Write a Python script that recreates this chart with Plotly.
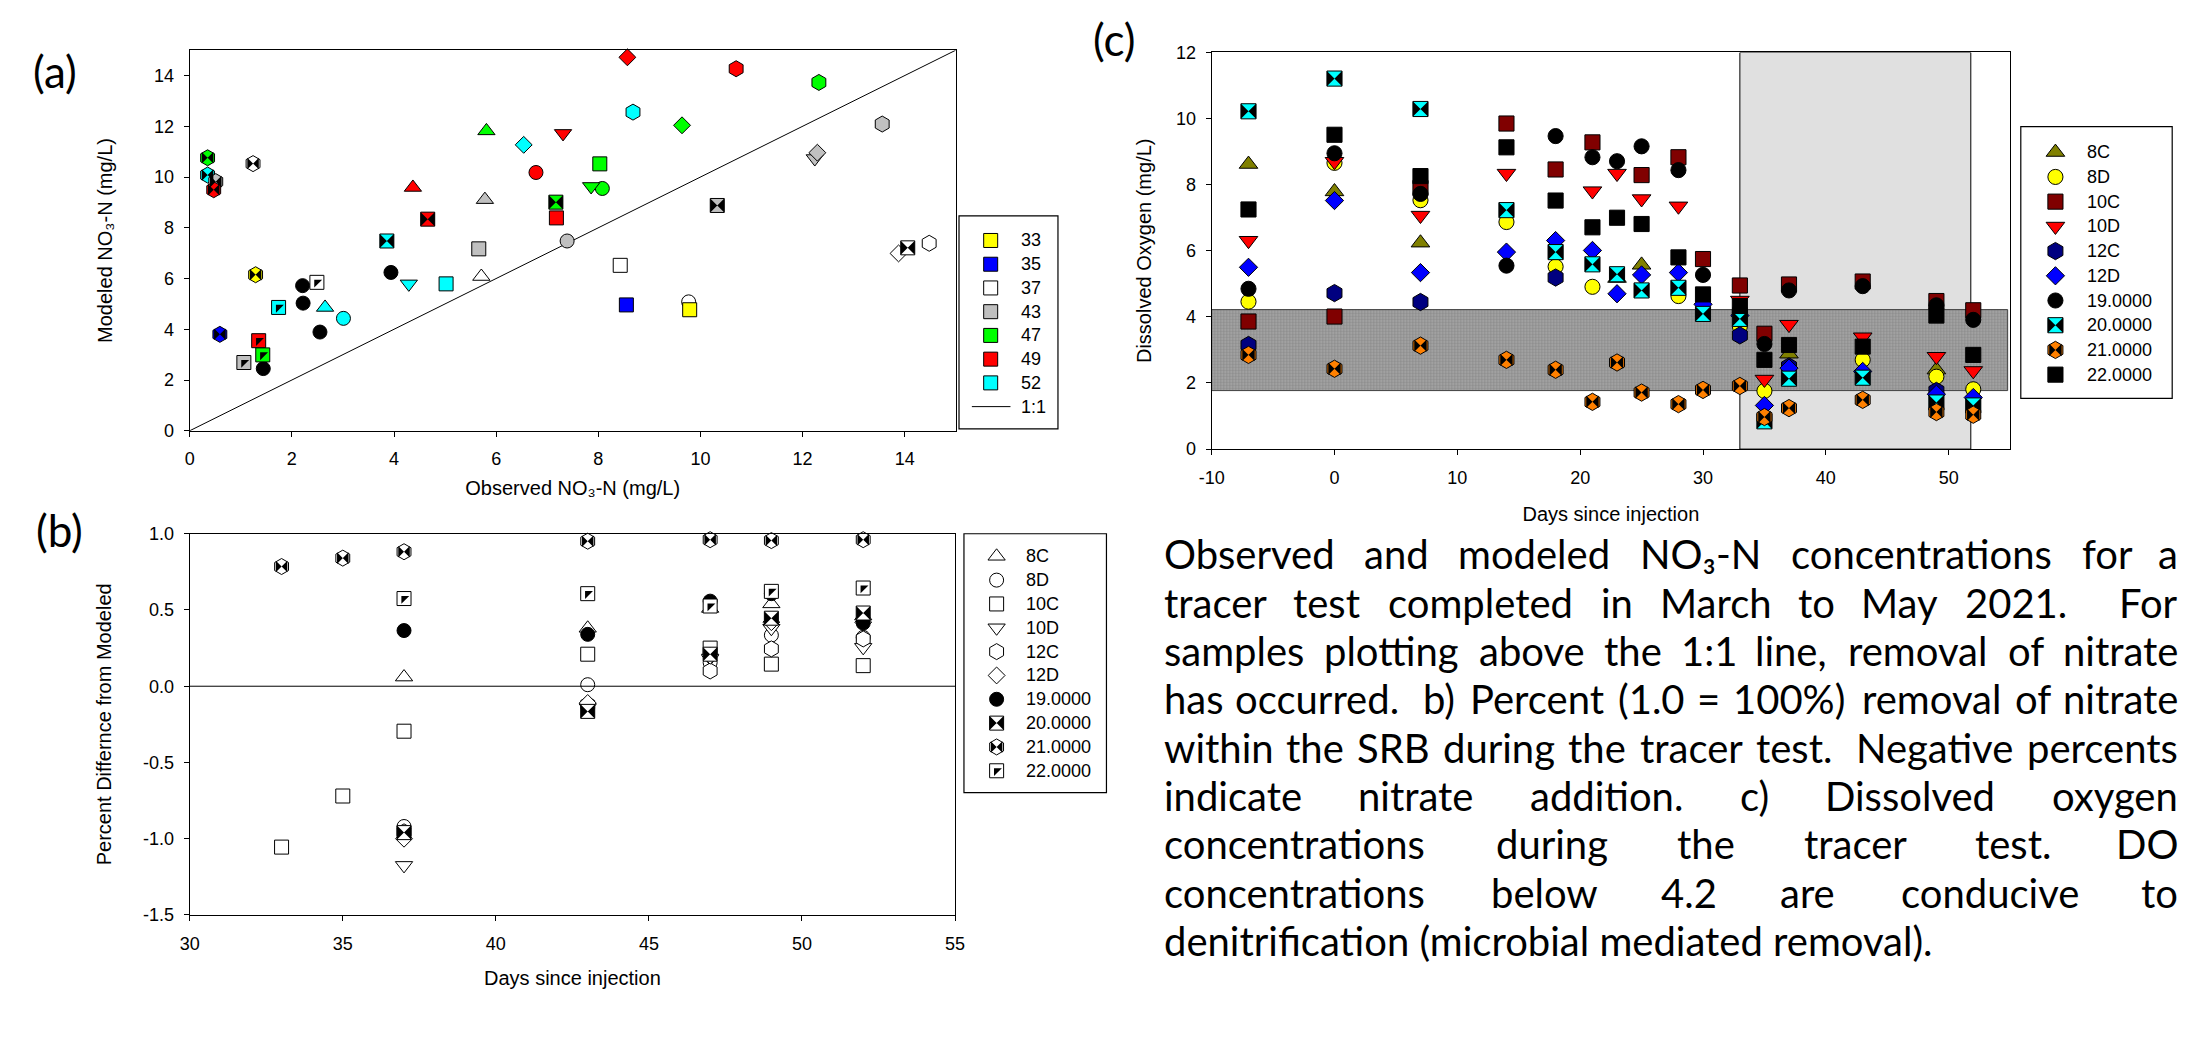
import plotly.graph_objects as go

W, H = 2201, 1040

# ======================= DATA =======================
# ---- Panel (a): observed vs modeled NO3-N (one entry per sample) ----
a_legend_days = [33, 35, 37, 43, 47, 49, 52]
a_legend_labels = ['33', '35', '37', '43', '47', '49', '52']
a_day_colors = ['#ffff00', '#0000ff', '#ffffff', '#c0c0c0', '#00ff00', '#ff0000', '#00ffff']
a_line_label = '1:1'
a_one_to_one = [0, 15]

a_well = ['8C', '8C', '8C', '8C', '8C',
          '8D', '8D', '8D', '8D', '8D',
          '10C', '10C', '10C', '10C', '10C', '10C', '10C',
          '10D', '10D', '10D', '10D',
          '12C', '12C', '12C', '12C', '12C',
          '12D', '12D', '12D', '12D', '12D',
          '19', '19', '19', '19', '19',
          '20', '20', '20', '20', '20',
          '21', '21', '21', '21', '21', '21', '21',
          '22', '22', '22', '22', '22']
a_day = [47, 49, 43, 37, 52,
         49, 47, 43, 52, 37,
         47, 49, 43, 37, 52, 35, 33,
         49, 47, 52, 43,
         52, 49, 47, 43, 37,
         49, 47, 52, 43, 37,
         37, 43, 47, 49, 52,
         47, 49, 52, 43, 37,
         33, 35, 37, 47, 52, 43, 49,
         37, 52, 49, 47, 43]
a_obs = [5.81, 4.37, 5.78, 5.71, 2.65,
         6.78, 8.08, 7.39, 3.01, 9.77,
         8.03, 7.18, 5.66, 8.43, 5.02, 8.55, 9.79,
         7.31, 7.86, 4.29, 12.24,
         8.68, 10.70, 12.32, 13.56, 14.48,
         8.57, 9.64, 6.54, 12.29, 13.88,
         3.94, 2.55, 2.22, 2.21, 1.44,
         7.17, 4.66, 3.86, 10.33, 14.06,
         1.29, 0.59, 1.24, 0.35, 0.35, 0.51, 0.47,
         2.49, 1.74, 1.35, 1.43, 1.06]
a_mod = [11.82, 9.59, 9.11, 6.08, 4.86,
         10.18, 9.55, 7.48, 4.43, 5.08,
         10.52, 8.39, 7.17, 6.52, 5.79, 4.96, 4.77,
         11.72, 9.63, 5.79, 10.73,
         12.56, 14.27, 13.73, 12.09, 7.39,
         14.72, 12.04, 11.27, 10.96, 6.99,
         6.24, 3.89, 5.03, 5.72, 2.45,
         9.01, 8.34, 7.48, 8.88, 7.21,
         6.15, 3.80, 10.53, 10.76, 10.08, 9.82, 9.50,
         5.85, 4.86, 3.55, 2.99, 2.69]
a_ticks = [0, 2, 4, 6, 8, 10, 12, 14]

# ---- Panel (b): percent difference from modeled ----
b_days = [33, 35, 37, 43, 47, 49, 52]
b_8C = [None, None, 0.06, 0.38, 0.51, 0.54, 0.46]
b_8D = [None, None, -0.92, 0.01, 0.155, 0.335, 0.32]
b_10C = [-1.055, -0.72, -0.295, 0.21, 0.25, 0.145, 0.135]
b_10D = [None, None, -1.175, -0.14, 0.185, 0.38, 0.255]
b_12C = [None, None, -0.955, -0.12, 0.10, 0.245, 0.31]
b_12D = [None, None, -1.0, -0.11, 0.20, 0.42, 0.42]
b_19 = [None, None, 0.365, 0.34, 0.558, 0.607, 0.414]
b_20 = [None, None, -0.96, -0.165, 0.21, 0.446, 0.48]
b_21 = [0.785, 0.84, 0.882, 0.951, 0.961, 0.955, 0.961]
b_22 = [None, None, 0.575, 0.607, 0.526, 0.622, 0.644]
b_xticks = [30, 35, 40, 45, 50, 55]
b_yticks = [-1.5, -1.0, -0.5, 0.0, 0.5, 1.0]
b_yticklabels = ['-1.5', '-1.0', '-0.5', '0.0', '0.5', '1.0']

# ---- Panel (c): dissolved oxygen ----
wells = ['8C', '8D', '10C', '10D', '12C', '12D', '19', '20', '21', '22']
well_labels = ['8C', '8D', '10C', '10D', '12C', '12D', '19.0000', '20.0000', '21.0000', '22.0000']
c_well_colors = ['#808000', '#ffff00', '#800000', '#ff0000', '#000080', '#0000ff',
                 '#000000', '#00ffff', '#ff8000', '#000000']
c_days = [-7, 0, 7, 14, 18, 21, 23, 25, 28, 30, 33, 35, 37, 43, 49, 52]
c_8C = [8.62, 7.79, 6.24, None, None, None, 5.17, 5.57, None, None, None, None, 2.88, None, 2.40, None]
c_8D = [4.46, 8.66, 7.53, 6.87, 5.52, 4.91, None, None, 4.63, None, 3.71, 1.76, None, 2.70, 2.19, 1.81]
c_10C = [3.86, 4.01, 7.90, 9.85, 8.46, 9.28, None, 8.29, 8.83, 5.75, 4.95, 3.49, 4.98, 5.07, 4.48, 4.20]
c_10D = [6.31, 8.70, 7.07, 8.34, None, 7.81, 8.34, 7.57, 7.35, None, 4.50, 2.11, 3.77, 3.39, 2.80, 2.37]
c_12C = [3.15, 4.72, 4.45, None, 5.19, None, None, None, None, None, 3.44, None, 2.50, None, 1.76, None]
c_12D = [5.50, 7.52, 5.34, 5.96, 6.31, 6.01, 4.70, 5.27, 5.34, 4.38, 4.04, 1.32, 2.45, 2.35, 1.66, 1.56]
c_19 = [4.85, 8.95, 7.72, 5.55, 9.47, 8.83, 8.71, 9.16, 8.44, 5.27, 4.20, 3.18, 4.80, 4.93, 4.35, 3.91]
c_20 = [10.22, 11.21, 10.29, 7.23, 5.96, 5.59, 5.29, 4.80, 4.88, 4.09, 3.94, 0.84, 2.13, 2.16, 1.41, 1.32]
c_21 = [2.85, 2.43, 3.13, 2.70, 2.40, 1.43, 2.62, 1.71, 1.36, 1.79, 1.91, 0.97, 1.24, 1.49, 1.12, 1.04]
c_22 = [7.25, 9.51, 8.26, 9.13, 7.52, 6.71, 7.00, 6.81, 5.80, 4.68, 4.33, 2.70, 3.15, 3.10, 4.04, 2.85]
c_do_band = [1.77, 4.22]          # DO range conducive to denitrification
c_band_days = [-10, 54.8]
c_window_days = [33, 51.8]        # shaded sampling window
c_window_do = [0, 12]
c_xticks = [-10, 0, 10, 20, 30, 40, 50]
c_xticklabels = ['-10', '0', '10', '20', '30', '40', '50']
c_yticks = [0, 2, 4, 6, 8, 10, 12]

caption_lines = [
    "Observed and modeled NO\u2083-N concentrations for a",
    "tracer test completed in March to May 2021.  For",
    "samples plotting above the 1:1 line, removal of nitrate",
    "has occurred.  b) Percent (1.0 = 100%) removal of nitrate",
    "within the SRB during the tracer test.  Negative percents",
    "indicate nitrate addition. c) Dissolved oxygen",
    "concentrations during the tracer test. DO",
    "concentrations below 4.2 are conducive to",
    "denitrification (microbial mediated removal).",
]

# ======================= STYLE =======================
SYMBOL = {'8C': 'triangle-up', '8D': 'circle', '10C': 'square', '10D': 'triangle-down',
          '12C': 'hexagon', '12D': 'diamond', '19': 'circle', '20': 'square',
          '21': 'hexagon', '22': 'square'}
SIZE = {'8C': 15, '8D': 14, '10C': 14, '10D': 15, '12C': 16, '12D': 13,
        '19': 14, '20': 14, '21': 16, '22': 14}
OVER = {'20': ('bowtie', 1.0), '21': ('bowtie', 0.72), '22': ('triangle-nw', 1 / 1.6)}

AXFONT = 'Liberation Sans, Arial, sans-serif'
CAPFONT = 'Lato, Open Sans, sans-serif'

fig = go.Figure()


def add_marks(x, y, well, fill, xa, ya, scale=1.0):
    fig.add_trace(go.Scatter(
        x=x, y=y, mode='markers', xaxis=xa, yaxis=ya, showlegend=False,
        hoverinfo='skip', cliponaxis=False,
        marker=dict(symbol=SYMBOL[well], size=SIZE[well] * scale, color=fill,
                    line=dict(color='black', width=1))))
    if well in OVER:
        sym, f = OVER[well]
        fig.add_trace(go.Scatter(
            x=x, y=y, mode='markers', xaxis=xa, yaxis=ya, showlegend=False,
            hoverinfo='skip', cliponaxis=False,
            marker=dict(symbol=sym, size=SIZE[well] * scale * f, color='black',
                        line=dict(width=0))))


def px_x(p):
    return p / W


def px_y(p):
    return 1 - p / H


# ---------------- Panel (a) ----------------
day_color = dict(zip(a_legend_days, a_day_colors))
fig.add_trace(go.Scatter(x=a_one_to_one, y=a_one_to_one, mode='lines', xaxis='x', yaxis='y',
                         line=dict(color='black', width=1), showlegend=False, hoverinfo='skip'))
for w in wells:
    idx = [i for i, ww in enumerate(a_well) if ww == w]
    if not idx:
        continue
    xs = [a_obs[i] for i in idx]
    ys = [a_mod[i] for i in idx]
    cols = ['#000000' if w == '19' else day_color[a_day[i]] for i in idx]
    add_marks(xs, ys, w, cols, 'x', 'y')

# ---------------- Panel (b) ----------------
b_series = [b_8C, b_8D, b_10C, b_10D, b_12C, b_12D, b_19, b_20, b_21, b_22]
for w, ser in zip(wells, b_series):
    add_marks(b_days, ser, w, '#000000' if w == '19' else '#ffffff', 'x2', 'y2')

# ---------------- Panel (c) ----------------
fig.add_trace(go.Scatter(
    x=[c_band_days[0], c_band_days[1], c_band_days[1], c_band_days[0], c_band_days[0]],
    y=[c_do_band[0], c_do_band[0], c_do_band[1], c_do_band[1], c_do_band[0]],
    mode='lines', fill='toself', xaxis='x3', yaxis='y3',
    line=dict(color='#404040', width=1), fillcolor='#9a9a9a',
    fillpattern=dict(shape='.', bgcolor='#8c8c8c', fgcolor='#d8d8d8', size=3, solidity=0.35),
    showlegend=False, hoverinfo='skip'))
c_series = [c_8C, c_8D, c_10C, c_10D, c_12C, c_12D, c_19, c_20, c_21, c_22]
for w, ser, col in zip(wells, c_series, c_well_colors):
    add_marks(c_days, ser, w, col, 'x3', 'y3', scale=1.08)

# ---------------- Legends (drawn on a pixel overlay axis) ----------------
annotations = []
shapes = []
LEG_FONT = dict(family=AXFONT, size=18, color='black')


def legend_box(x0, y0, x1, y1):
    shapes.append(dict(type='rect', xref='paper', yref='paper', x0=px_x(x0), x1=px_x(x1),
                       y0=px_y(y1), y1=px_y(y0), line=dict(color='black', width=1.2),
                       fillcolor='white', layer='below'))


def legend_text(x, y, txt):
    annotations.append(dict(xref='paper', yref='paper', x=px_x(x), y=px_y(y), text=txt,
                            showarrow=False, xanchor='left', yanchor='middle', font=LEG_FONT))


# legend (a)
legend_box(956, 210, 1056, 427)
for k, (lab, col) in enumerate(zip(a_legend_labels, a_day_colors)):
    yy = 235 + k * 24.2
    fig.add_trace(go.Scatter(x=[988], y=[yy], mode='markers', xaxis='x4', yaxis='y4',
                             showlegend=False, hoverinfo='skip', cliponaxis=False,
                             marker=dict(symbol='square', size=14, color=col,
                                         line=dict(color='black', width=1))))
    legend_text(1017, yy, lab)
yl = 235 + len(a_legend_labels) * 24.2
fig.add_trace(go.Scatter(x=[969, 1008], y=[yl, yl], mode='lines', xaxis='x4', yaxis='y4',
                         showlegend=False, hoverinfo='skip', line=dict(color='black', width=1)))
legend_text(1017, yl, a_line_label)

# legend (b)
legend_box(961, 534, 1105, 798)
for k, (w, lab) in enumerate(zip(wells, well_labels)):
    yy = 557 + k * 24.3
    add_marks([994], [yy], w, '#000000' if w == '19' else '#ffffff', 'x4', 'y4')
    legend_text(1022, yy, lab)

# legend (c)
legend_box(2029, 119, 2182, 396)
for k, (w, lab, col) in enumerate(zip(wells, well_labels, c_well_colors)):
    yy = 145 + k * 25.2
    add_marks([2064], [yy], w, col, 'x4', 'y4', scale=1.08)
    legend_text(2094, yy, lab)

# ---------------- Panel labels ----------------
for lab, (x, y) in zip(['(a)', '(b)', '(c)'], [(42, 62), (47, 530), (1113, 30)]):
    annotations.append(dict(xref='paper', yref='paper', x=px_x(x), y=px_y(y), text=lab,
                            showarrow=False, xanchor='center', yanchor='middle',
                            font=dict(family=CAPFONT, size=44, color='black')))

# ---------------- Caption (justified) ----------------
EM = {' ': 0.19, 'a': 0.49, 'b': 0.56, 'c': 0.46, 'd': 0.56, 'e': 0.52, 'f': 0.33, 'g': 0.50,
      'h': 0.56, 'i': 0.24, 'j': 0.24, 'k': 0.51, 'l': 0.24, 'm': 0.84, 'n': 0.56, 'o': 0.56,
      'p': 0.55, 'q': 0.56, 'r': 0.37, 's': 0.42, 't': 0.35, 'u': 0.56, 'v': 0.51, 'w': 0.78,
      'x': 0.50, 'y': 0.51, 'z': 0.46, 'B': 0.64, 'C': 0.66, 'D': 0.72, 'F': 0.56, 'M': 0.87,
      'N': 0.74, 'O': 0.78, 'P': 0.60, 'R': 0.63, 'S': 0.52, '.': 0.21, ',': 0.21, ':': 0.24,
      '(': 0.30, ')': 0.30, '-': 0.34, '=': 0.58, '%': 0.82, '\u2083': 0.40}
EM_SCALE = 1.04
CAP_SIZE = 40
CAP_LEFT, CAP_RIGHT = 1161, 2190
CAP_Y0, CAP_DY = 555, 49.3
CAP_FONT = dict(family=CAPFONT, size=CAP_SIZE, color='black')


def word_width(word):
    return sum(EM.get(ch, 0.58) for ch in word) * CAP_SIZE * EM_SCALE


for li, line in enumerate(caption_lines):
    yy = CAP_Y0 + li * CAP_DY
    if li == len(caption_lines) - 1:
        # last paragraph line: left aligned, natural spacing
        annotations.append(dict(xref='paper', yref='paper', x=px_x(CAP_LEFT), y=px_y(yy),
                                text=line, showarrow=False, xanchor='left', yanchor='middle',
                                font=CAP_FONT))
        continue
    words, gaps, pending = [], [], 0
    for t in line.split(' '):
        if t == '':
            pending += 1
            continue
        if words:
            gaps.append(pending + 1)
        words.append(t)
        pending = 0
    widths = [word_width(w) for w in words]
    sp = EM[' '] * CAP_SIZE
    sp = max((CAP_RIGHT - CAP_LEFT - sum(widths)) / sum(gaps), 0.6 * sp)
    x = CAP_LEFT
    for k, (wd, ww) in enumerate(zip(words, widths)):
        if k > 0:
            x += gaps[k - 1] * sp
        if k == 0:
            xa, xpos = 'left', x
        elif k == len(words) - 1:
            xa, xpos = 'right', CAP_RIGHT
        else:
            xa, xpos = 'center', x + ww / 2
        annotations.append(dict(xref='paper', yref='paper', x=px_x(xpos), y=px_y(yy), text=wd,
                                showarrow=False, xanchor=xa, yanchor='middle', font=CAP_FONT))
        x += ww

# ---------------- Shapes in panels ----------------
shapes.append(dict(type='line', xref='x2 domain', yref='y2', x0=0, x1=1, y0=0, y1=0,
                   line=dict(color='black', width=1)))
shapes.append(dict(type='rect', xref='x3', yref='y3', x0=c_window_days[0], x1=c_window_days[1],
                   y0=c_window_do[0], y1=c_window_do[1], fillcolor='#e0e0e0',
                   line=dict(color='black', width=1), layer='below'))


# ---------------- Axes ----------------
def axis(domain, rng, tickvals, ticktext=None, title='', standoff=10, anchor=None, xaxis=True):
    d = dict(domain=domain, range=rng, tickmode='array', tickvals=tickvals,
             showline=True, linecolor='black', linewidth=1, mirror=True,
             ticks='outside', ticklen=5, tickwidth=1, tickcolor='black',
             showgrid=False, zeroline=False, fixedrange=True,
             tickfont=dict(family=AXFONT, size=18, color='black'),
             ticklabelstandoff=7 if xaxis else 6,
             title=dict(text=title, standoff=standoff,
                        font=dict(family=AXFONT, size=20, color='black')),
             anchor=anchor)
    if ticktext is not None:
        d['ticktext'] = ticktext
    return d


A_X = [178.6 / W, 952.7 / W]
A_Y = [1 - 429 / H, 1 - 41 / H]
B_X = [178.6 / W, 952.0 / W]
B_Y = [1 - 922.7 / H, 1 - 534 / H]
C_X = [1211.3 / W, 2018.2 / W]
C_Y = [1 - 447.7 / H, 1 - 43.3 / H]

fig.update_layout(
    width=W, height=H, autosize=False,
    margin=dict(l=0, r=0, t=0, b=0),
    paper_bgcolor='white', plot_bgcolor='rgba(0,0,0,0)',
    showlegend=False,
    font=dict(family=AXFONT, color='black'),
    xaxis=axis(A_X, [0, 15], a_ticks, title='Observed NO\u2083-N (mg/L)', standoff=12, anchor='y'),
    yaxis=axis(A_Y, [0, 15], a_ticks, title='Modeled NO\u2083-N (mg/L)', standoff=36,
               anchor='x', xaxis=False),
    xaxis2=axis(B_X, [30, 55], b_xticks, title='Days since injection', standoff=18, anchor='y2'),
    yaxis2=axis(B_Y, [-1.5, 1.0], b_yticks, b_yticklabels, title='Percent Differnce from Modeled',
                standoff=26, anchor='x2', xaxis=False),
    xaxis3=axis(C_X, [-10, 55], c_xticks, c_xticklabels, title='Days since injection', standoff=20,
                anchor='y3'),
    yaxis3=axis(C_Y, [0, 12], c_yticks, title='Dissolved Oxygen (mg/L)', standoff=18, anchor='x3',
                xaxis=False),
    xaxis4=dict(domain=[0, 1], range=[0, W], visible=False, fixedrange=True, anchor='y4'),
    yaxis4=dict(domain=[0, 1], range=[H, 0], visible=False, fixedrange=True, anchor='x4'),
    annotations=annotations,
    shapes=shapes,
)

fig.write_html("out.html")
